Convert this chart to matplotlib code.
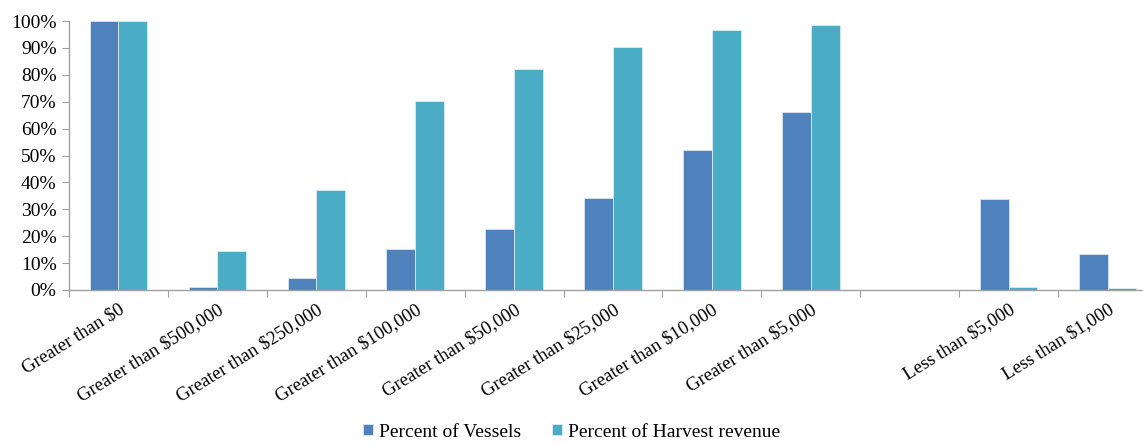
"""Share of vessels and harvest revenue by revenue class."""

import matplotlib.pyplot as plt
import matplotlib.ticker as mticker
import numpy as np

categories = [
    "Greater than $0",
    "Greater than $500,000",
    "Greater than $250,000",
    "Greater than $100,000",
    "Greater than $50,000",
    "Greater than $25,000",
    "Greater than $10,000",
    "Greater than $5,000",
    "",
    "Less than $5,000",
    "Less than $1,000",
]
pct_vessels = [100.0, 1.2, 4.6, 15.1, 22.5, 34.1, 52.0, 66.3, 0.0, 33.7, 13.4]
pct_revenue = [100.0, 14.5, 37.2, 70.1, 82.0, 90.3, 96.5, 98.5, 0.0, 1.1, 0.6]

BLUE = "#4F81BD"
TEAL = "#4BACC6"
AXIS_GREY = "#A0A0A0"

plt.rcParams.update({
    "font.family": ["Liberation Serif", "DejaVu Serif"],
    "font.size": 14,
})

fig = plt.figure(figsize=(11.43, 4.44), dpi=100)
W, H = 1143, 444
ax = fig.add_axes([69 / W, (H - 290) / H, (1157 - 69) / W, (290 - 21) / H])

x = np.arange(len(categories))
bw = 0.29
ax.bar(x - bw / 2, pct_vessels, width=bw, color=BLUE, edgecolor="#DCE6F2",
       linewidth=0.6, label="Percent of Vessels")
ax.bar(x + bw / 2, pct_revenue, width=bw, color=TEAL, edgecolor="#DAEEF3",
       linewidth=0.6, label="Percent of Harvest revenue")

ax.set_xlim(-0.5, len(categories) - 0.5)
ax.set_ylim(0, 100)
ax.yaxis.set_major_locator(mticker.MultipleLocator(10))
ax.yaxis.set_major_formatter(mticker.FuncFormatter(lambda v, _: f"{v:.0f}%"))

# tick marks at category boundaries, labels at centres
ax.set_xticks(np.arange(-0.5, len(categories), 1.0))
ax.set_xticklabels([])
ax.set_xticks(x, minor=True)
ax.set_xticklabels(categories, minor=True, rotation=32, ha="right",
                   rotation_mode="anchor")
ax.tick_params(axis="x", which="minor", length=0, pad=8, labelsize=13.5)
ax.tick_params(axis="x", which="major", length=5, color=AXIS_GREY, direction="out")
ax.tick_params(axis="y", length=5, color=AXIS_GREY, labelsize=14, pad=4)

for side in ("top", "right"):
    ax.spines[side].set_visible(False)
for side in ("left", "bottom"):
    ax.spines[side].set_color(AXIS_GREY)
    ax.spines[side].set_linewidth(1.0)

fig.legend(loc="lower center", bbox_to_anchor=(0.5, -0.032), ncol=2, frameon=False,
           handlelength=0.5, handleheight=0.5, handletextpad=0.3, columnspacing=1.6,
           fontsize=14)

fig.savefig("out.png", dpi=100, facecolor="white")
